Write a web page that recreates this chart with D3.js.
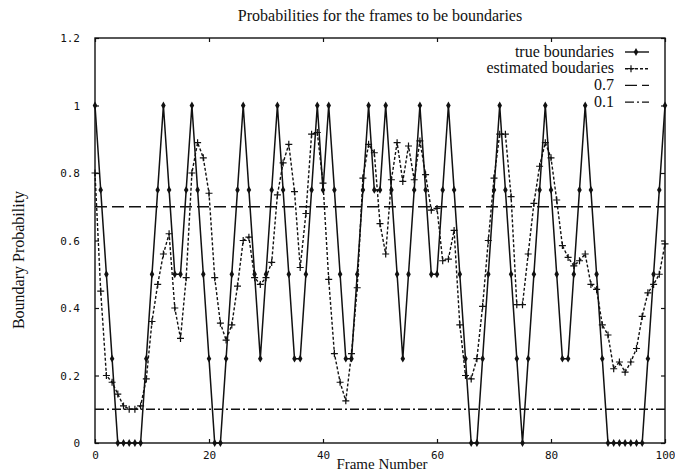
<!DOCTYPE html>
<html>
<meta charset="utf-8">
<head>
	<script src="https://d3js.org/d3.v7.min.js"></script>
	<style>
		body { margin: 0; background: #fff; }
		.frame { fill: none; stroke: #111; stroke-width: 1.4px; }
		.axis path { display: none; }
		.axis line { stroke: #111; stroke-width: 1.2px; }
		.axis text { font-family: "DejaVu Sans Mono", monospace; font-size: 11px; fill: #111; }
		.serif { font-family: "Liberation Serif", "Times New Roman", serif; fill: #111; }
	</style>
</head>
<body>
<script>
	// frame number = index in the arrays (0..100)
	var trueBoundaries = [
		1, 0.75, 0.5, 0.25, 0, 0, 0, 0, 0, 0.25,
		0.5, 0.75, 1, 0.75, 0.5, 0.5, 0.75, 1, 0.75, 0.5,
		0.25, 0, 0, 0.25, 0.5, 0.75, 1, 0.75, 0.5, 0.25,
		0.5, 0.75, 1, 0.75, 0.5, 0.25, 0.25, 0.5, 0.75, 1,
		0.75, 1, 0.75, 0.5, 0.25, 0.25, 0.5, 0.75, 1, 0.75,
		0.75, 1, 0.75, 0.5, 0.25, 0.5, 0.75, 1, 0.75, 0.5,
		0.5, 0.75, 1, 0.75, 0.5, 0.25, 0, 0, 0.25, 0.5,
		0.75, 1, 0.75, 0.5, 0.25, 0, 0.25, 0.5, 0.75, 1,
		0.75, 0.5, 0.25, 0.25, 0.5, 0.75, 1, 0.75, 0.5, 0.25,
		0, 0, 0, 0, 0, 0, 0, 0.25, 0.5, 0.75,
		1
	];
	var estimatedBoundaries = [
		0.8, 0.45, 0.2, 0.18, 0.145, 0.11, 0.1, 0.1, 0.11, 0.19,
		0.36, 0.47, 0.56, 0.62, 0.4, 0.31, 0.49, 0.8, 0.89, 0.845,
		0.74, 0.49, 0.355, 0.305, 0.35, 0.465, 0.6, 0.61, 0.49, 0.47,
		0.49, 0.535, 0.735, 0.83, 0.885, 0.745, 0.52, 0.68, 0.915, 0.92,
		0.77, 0.485, 0.265, 0.18, 0.125, 0.265, 0.46, 0.785, 0.885, 0.86,
		0.65, 0.56, 0.78, 0.89, 0.775, 0.88, 0.78, 0.895, 0.795, 0.69,
		0.695, 0.54, 0.545, 0.63, 0.35, 0.2, 0.19, 0.25, 0.405, 0.6,
		0.785, 0.915, 0.915, 0.73, 0.41, 0.41, 0.56, 0.71, 0.82, 0.89,
		0.845, 0.72, 0.585, 0.55, 0.525, 0.54, 0.56, 0.47, 0.455, 0.35,
		0.32, 0.22, 0.24, 0.21, 0.24, 0.28, 0.375, 0.445, 0.47, 0.5,
		0.59
	];
	var thresholds = [0.7, 0.1];
	var xTicks = [0, 20, 40, 60, 80, 100];
	var yTicks = [0, 0.2, 0.4, 0.6, 0.8, 1, 1.2];
	var legendLabels = ["true boundaries", "estimated boudaries", "0.7", "0.1"];
	var dashes = ["none", "3,2", "12,5", "9,3,2,3"];

	var width = 675,
		height = 474;

	var x = d3.scaleLinear().domain([0, 100]).range([95, 665]);
	var y = d3.scaleLinear().domain([0, 1.2]).range([443, 38]);

	var svg = d3.select("body").append("svg")
		.attr("width", width)
		.attr("height", height);

	// title and axis names
	svg.append("text").attr("class", "serif")
		.attr("x", 380).attr("y", 21)
		.attr("text-anchor", "middle")
		.style("font-size", "16px")
		.text("Probabilities for the frames to be boundaries");

	svg.append("text").attr("class", "serif")
		.attr("transform", "translate(24,260) rotate(-90)")
		.attr("text-anchor", "middle")
		.style("font-size", "16px")
		.text("Boundary Probability");

	// sits between the "40" and "60" tick labels
	svg.append("text").attr("class", "serif")
		.attr("x", 382).attr("y", 469)
		.attr("text-anchor", "middle")
		.style("font-size", "15px")
		.text("Frame Number");

	// axes, ticks pointing inwards
	svg.append("g").attr("class", "axis")
		.attr("transform", "translate(0,443)")
		.call(d3.axisBottom(x).tickValues(xTicks).tickSizeInner(-4).tickSizeOuter(0).tickPadding(8));
	svg.append("g").attr("class", "axis")
		.attr("transform", "translate(0,38)")
		.call(d3.axisTop(x).tickValues(xTicks).tickSizeInner(-4).tickSizeOuter(0).tickFormat(""));
	svg.append("g").attr("class", "axis")
		.attr("transform", "translate(95,0)")
		.call(d3.axisLeft(y).tickValues(yTicks).tickSizeInner(-4).tickSizeOuter(0).tickPadding(15).tickFormat(d3.format("~g")));
	svg.append("g").attr("class", "axis")
		.attr("transform", "translate(665,0)")
		.call(d3.axisRight(y).tickValues(yTicks).tickSizeInner(-4).tickSizeOuter(0).tickFormat(""));

	svg.append("rect").attr("class", "frame")
		.attr("x", 95).attr("y", 38)
		.attr("width", 570).attr("height", 405);

	// threshold lines
	thresholds.forEach(function (t, i) {
		svg.append("line")
			.attr("x1", x(0)).attr("x2", x(100))
			.attr("y1", y(t)).attr("y2", y(t))
			.attr("stroke", "#111").attr("stroke-width", 1.3)
			.attr("stroke-dasharray", dashes[i + 2]);
	});

	var line = d3.line()
		.x(function (d, i) { return x(i); })
		.y(function (d) { return y(d); });

	function plus(s) {
		return "M" + (-s) + ",0H" + s + "M0," + (-s) + "V" + s;
	}

	// estimated boundaries
	svg.append("path")
		.datum(estimatedBoundaries)
		.attr("d", line)
		.attr("fill", "none").attr("stroke", "#111")
		.attr("stroke-width", 1.4).attr("stroke-dasharray", dashes[1]);
	svg.selectAll(".est").data(estimatedBoundaries).enter()
		.append("path").attr("class", "est")
		.attr("transform", function (d, i) { return "translate(" + x(i) + "," + y(d) + ")"; })
		.attr("d", plus(3.5))
		.attr("stroke", "#111").attr("stroke-width", 1.2);

	// true boundaries
	svg.append("path")
		.datum(trueBoundaries)
		.attr("d", line)
		.attr("fill", "none").attr("stroke", "#111")
		.attr("stroke-width", 1.5);
	svg.selectAll(".tru").data(trueBoundaries).enter()
		.append("path").attr("class", "tru")
		.attr("transform", function (d, i) { return "translate(" + x(i) + "," + y(d) + ")"; })
		.attr("d", d3.symbol().type(d3.symbolDiamond).size(18))
		.attr("fill", "#111");

	// legend
	var legend = svg.append("g");
	legendLabels.forEach(function (name, i) {
		var ly = 52 + i * 16.7;
		legend.append("text").attr("class", "serif")
			.attr("x", 614).attr("y", ly + 4.5)
			.attr("text-anchor", "end")
			.style("font-size", "16px")
			.text(name);
		legend.append("line")
			.attr("x1", 625).attr("x2", 649)
			.attr("y1", ly).attr("y2", ly)
			.attr("stroke", "#111").attr("stroke-width", 1.4)
			.attr("stroke-dasharray", dashes[i]);
		if (i == 0) {
			legend.append("path")
				.attr("transform", "translate(636," + ly + ")")
				.attr("d", d3.symbol().type(d3.symbolDiamond).size(18))
				.attr("fill", "#111");
		}
		if (i == 1) {
			legend.append("path")
				.attr("transform", "translate(631," + ly + ")")
				.attr("d", plus(3.5))
				.attr("stroke", "#111").attr("stroke-width", 1.2);
		}
	});
</script>
</body>
</html>
